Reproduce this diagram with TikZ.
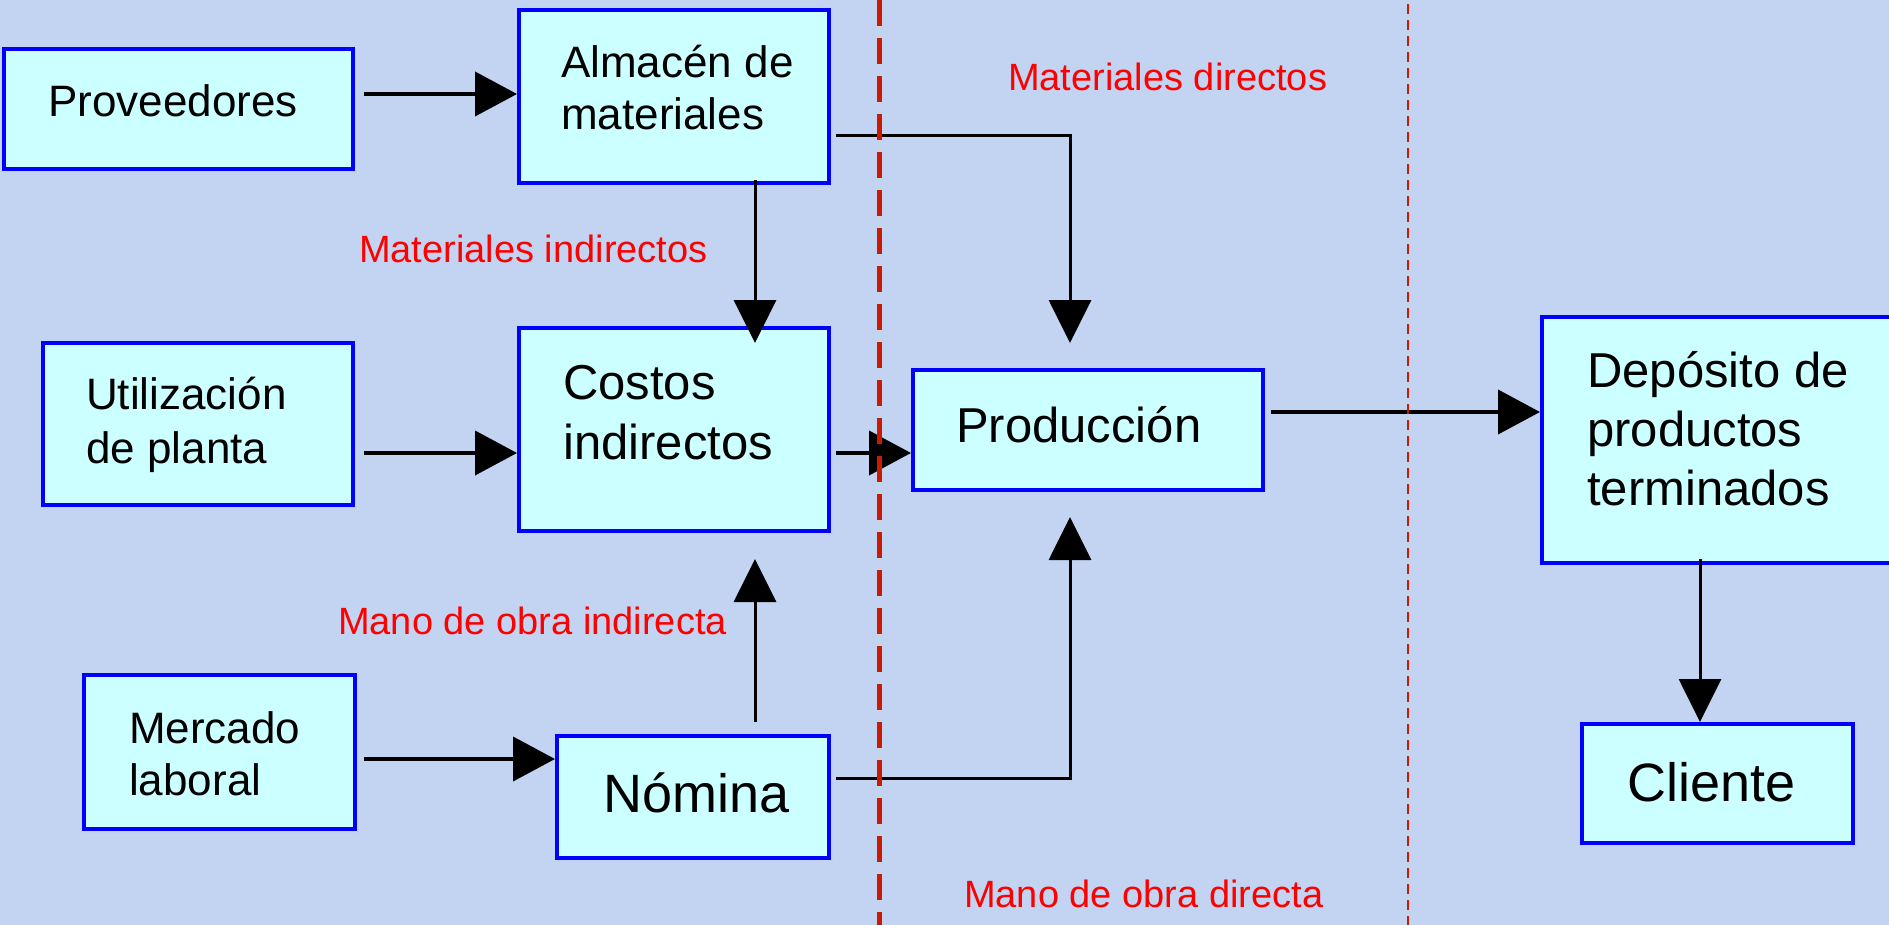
\documentclass[tikz,border=0pt]{standalone}
\usepackage{fontspec}
\setmainfont{Liberation Sans}
\usetikzlibrary{arrows.meta,calc}
\definecolor{bgc}{RGB}{194,212,242}
\definecolor{boxfill}{RGB}{204,255,255}
\definecolor{boxline}{RGB}{0,0,255}
\definecolor{lblred}{RGB}{255,0,0}
\definecolor{divred}{RGB}{204,26,0}
\begin{document}
\begin{tikzpicture}[x=1pt,y=-1pt,
  box/.style={draw=boxline,fill=boxfill,line width=4pt,inner sep=0pt},
  txt/.style={inner sep=0pt,anchor=base west,align=left,text=black},
  tA/.style={txt,font=\fontsize{44pt}{52pt}\selectfont},
  tB/.style={txt,font=\fontsize{49pt}{60pt}\selectfont},
  tC/.style={txt,font=\fontsize{54pt}{60pt}\selectfont},
  lbl/.style={inner sep=0pt,anchor=base west,text=lblred,font=\fontsize{38pt}{44pt}\selectfont},
  thk/.style={draw=black,line width=4pt,-{Triangle[length=42pt,width=44pt]}},
  thn/.style={draw=black,line width=3pt,-{Triangle[length=43pt,width=42pt]}},
  bigdash/.style={draw=divred,line width=5pt,dash pattern=on 26pt off 12pt},
  smalldash/.style={draw=divred,line width=2pt,dash pattern=on 10pt off 6pt}
]
\useasboundingbox (0,0) rectangle (1889,925);
\fill[bgc] (0,0) rectangle (1889,925);
\clip (0,0) rectangle (1889,925);

% boxes
\node[box,minimum width=349pt,minimum height=120pt] (prov) at (178.5,109) {};
\node[box,minimum width=310pt,minimum height=173pt] (alm) at (674,96.5) {};
\node[box,minimum width=310pt,minimum height=162pt] (util) at (198,424) {};
\node[box,minimum width=310pt,minimum height=203pt] (cost) at (674,429.5) {};
\node[box,minimum width=350pt,minimum height=120pt] (prod) at (1088,430) {};
\node[box,minimum width=360pt,minimum height=246pt] (dep) at (1722,440) {};
\node[box,minimum width=271pt,minimum height=154pt] (merc) at (219.5,752) {};
\node[box,minimum width=272pt,minimum height=122pt] (nom) at (693,797) {};
\node[box,minimum width=271pt,minimum height=119pt] (cli) at (1717.5,783.5) {};

% box texts (base anchor = baseline of the last line)
\node[tA] (provT) at (48,117) {Proveedores};
\node[tA] (almT) at (561,130) {Almacén de\\materiales};
\node[tA,font=\fontsize{44pt}{54pt}\selectfont] (utilT) at (86,463) {Utilización\\de planta};
\node[tB] (costT) at (563,459) {Costos\\indirectos};
\node[tB] (prodT) at (956,442) {Producción};
\node[tB,font=\fontsize{49pt}{59pt}\selectfont] (depT) at (1587,505) {Depósito de\\productos\\terminados};
\node[tA] (mercT) at (129,795) {Mercado\\laboral};
\node[tC] (nomT) at (603,812) {Nómina};
\node[tC] (cliT) at (1627,801) {Cliente};

% red labels
\node[lbl] (lmd) at (1008,91) {Materiales directos};
\node[lbl] (lmi) at (359,263) {Materiales indirectos};
\node[lbl] (lmoi) at (338,634) {Mano de obra indirecta};
\node[lbl] (lmod) at (964,907) {Mano de obra directa};

% connectors
\draw[thk] ($(prov.east |- 0,94)+(9,0)$) -- (alm.west |- 0,94);
\draw[thk] ($(util.east |- 0,453)+(9,0)$) -- (cost.west |- 0,453);
\draw[thk] ($(cost.east |- 0,453)+(5,0)$) -- (prod.west |- 0,453);
\draw[thk] ($(prod.east |- 0,412)+(6,0)$) -- (dep.west |- 0,412);
\draw[thk] ($(merc.east |- 0,759)+(7,0)$) -- (nom.west |- 0,759);
\draw[thn] ($(alm.south -| 755,0)+(0,-5)$) -- ($(cost.north -| 755,0)+(0,17)$);
\draw[thn] ($(alm.east |- 0,136)+(5,0)$) -| ($(prod.north -| 1070,0)+(0,-25)$);
\draw[thn] ($(nom.north -| 755,0)+(0,-12)$) -- ($(cost.south -| 755,0)+(0,26)$);
\draw[thn] ($(nom.east |- 0,778)+(5,0)$) -| ($(prod.south -| 1070,0)+(0,25)$);
\draw[thn] ($(dep.south -| 1700,0)+(0,-6)$) -- (cli.north -| 1700,0);

% dividing lines
\draw[bigdash] (879,0) -- (879,925);
\draw[smalldash] (1408,4) -- (1408,925);
\end{tikzpicture}
\end{document}
